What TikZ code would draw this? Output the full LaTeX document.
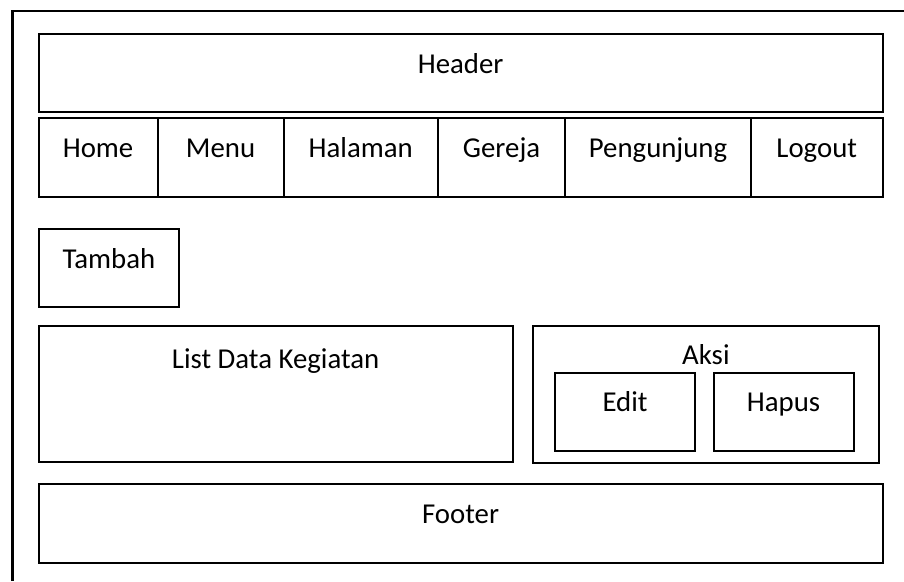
\documentclass[tikz,border=0pt]{standalone}
\usepackage{fontspec}
\setmainfont{Carlito}
\usetikzlibrary{positioning}

\begin{document}
\begin{tikzpicture}[x=1pt, y=-1pt,
        box/.style={draw, line width=1.8pt, inner sep=0pt, anchor=north west},
        lbl/.style={anchor=base, inner sep=0pt, font=\fontsize{28.8pt}{34pt}\selectfont},
        frame/.style={line width=2.4pt},
    ]
    \useasboundingbox (0,0) rectangle (904,581);
    % page frame (only left and top edges show)
    \draw[frame] (12.3,581) -- (12.3,11) -- (904,11);

    % header
    \node[box, minimum width=844pt, minimum height=78pt] (header) at (37.7,32.7) {};
    \node[lbl] (headerlbl) at ([yshift=-40.6pt]header.north) {Header};

    % menu bar
    \node[box, minimum width=119pt, minimum height=78.4pt] (home) at (37.7,117.3) {};
    \node[box, minimum width=126pt, minimum height=78.4pt] (menu) at (156.7,117.3) {};
    \node[box, minimum width=154.3pt, minimum height=78.4pt] (halaman) at (282.7,117.3) {};
    \node[box, minimum width=127.3pt, minimum height=78.4pt] (gereja) at (437,117.3) {};
    \node[box, minimum width=185.7pt, minimum height=78.4pt] (pengunjung) at (564.3,117.3) {};
    \node[box, minimum width=131.7pt, minimum height=78.4pt] (logout) at (750,117.3) {};
    \node[lbl] (homelbl) at ([yshift=-39.7pt]home.north) {Home};
    \node[lbl] (menulbl) at ([yshift=-39.7pt]menu.north) {Menu};
    \node[lbl] (halamanlbl) at ([yshift=-39.7pt]halaman.north) {Halaman};
    \node[lbl] (gerejalbl) at ([yshift=-39.7pt]gereja.north) {Gereja};
    \node[lbl] (pengunjunglbl) at ([yshift=-39.7pt]pengunjung.north) {Pengunjung};
    \node[lbl] (logoutlbl) at ([yshift=-39.7pt]logout.north) {Logout};

    % tombol tambah
    \node[box, minimum width=140.6pt, minimum height=78.3pt] (tambah) at (37.7,227.7) {};
    \node[lbl] (tambahlbl) at ([yshift=-40.6pt]tambah.north) {Tambah};

    % list data dan aksi
    \node[box, minimum width=474pt, minimum height=136.3pt] (list) at (37.7,325) {};
    \node[lbl] (listlbl) at ([yshift=-43pt]list.north) {List Data Kegiatan};
    \node[box, minimum width=346.6pt, minimum height=136.7pt] (aksi) at (531.7,325) {};
    \node[lbl] (aksilbl) at ([yshift=-39pt]aksi.north) {Aksi};
    \node[box, minimum width=140.3pt, minimum height=78.3pt] (edit) at (554,371.7) {};
    \node[box, minimum width=140pt, minimum height=78.3pt] (hapus) at (712.7,371.7) {};
    \node[lbl] (editlbl) at ([yshift=-40pt]edit.north) {Edit};
    \node[lbl] (hapuslbl) at ([yshift=-40pt]hapus.north) {Hapus};

    % footer
    \node[box, minimum width=844pt, minimum height=78.7pt] (footer) at (37.7,483.3) {};
    \node[lbl] (footerlbl) at ([yshift=-40pt]footer.north) {Footer};
\end{tikzpicture}
\end{document}
